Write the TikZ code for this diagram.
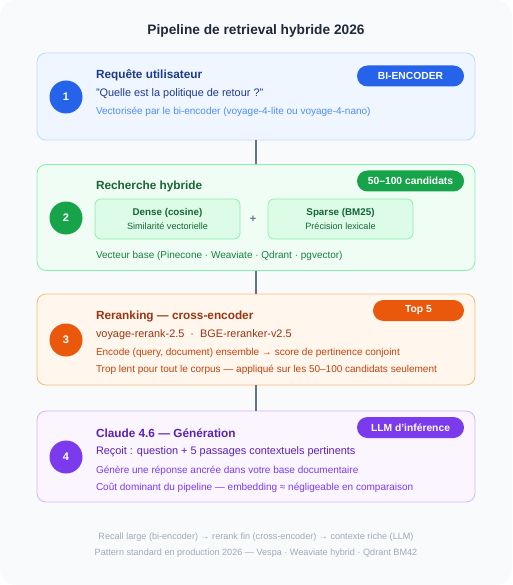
\documentclass[tikz,border=0pt]{standalone}
\usepackage{fontspec}
\setmainfont{Liberation Sans}
\usetikzlibrary{positioning}

% palette
\definecolor{pagebg}{HTML}{F8FAFC}
\definecolor{titlecol}{HTML}{1E293B}
\definecolor{linkcol}{HTML}{64748B}
\definecolor{footcol}{HTML}{A0AABB}
\definecolor{blueBg}{HTML}{EFF6FF}
\definecolor{blueLine}{HTML}{BFDBFE}
\definecolor{blueMain}{HTML}{2563EB}
\definecolor{blueDark}{HTML}{1E3A8A}
\definecolor{blueSoft}{HTML}{4F8EF0}
\definecolor{greenBg}{HTML}{F0FDF4}
\definecolor{greenLine}{HTML}{86EFAC}
\definecolor{greenMain}{HTML}{16A34A}
\definecolor{greenDark}{HTML}{166534}
\definecolor{greenSoft}{HTML}{15803D}
\definecolor{greenInner}{HTML}{DCFCE7}
\definecolor{orangeBg}{HTML}{FFF7ED}
\definecolor{orangeLine}{HTML}{FDBA74}
\definecolor{orangeMain}{HTML}{EA580C}
\definecolor{orangeDark}{HTML}{9A3412}
\definecolor{orangeSoft}{HTML}{C2410C}
\definecolor{purpleBg}{HTML}{FAF5FF}
\definecolor{purpleLine}{HTML}{D8B4FE}
\definecolor{purpleMain}{HTML}{7C3AED}
\definecolor{purpleDark}{HTML}{5B21B6}
\definecolor{purpleSoft}{HTML}{7C3AED}

\begin{document}
\begin{tikzpicture}[
        x=1pt, y=-1pt, % pixel-like grid, y downwards
        every node/.style={inner sep=0pt, outer sep=0pt},
        stagebox/.style={rectangle, rounded corners=9pt, line width=0.8pt, minimum width=438pt}, % one stage of the pipeline
        stepnum/.style={circle, minimum size=33pt, text=white, font=\bfseries\fontsize{11}{13}\selectfont}, % numbered disc
        badge/.style={rectangle, rounded corners=10.5pt, minimum height=21pt, minimum width=107pt, anchor=east, text=white, font=\bfseries\fontsize{10.3}{12}\selectfont},
        stagetitle/.style={anchor=west, font=\bfseries\fontsize{11.8}{14}\selectfont},
        mainline/.style={anchor=west, font=\fontsize{10.9}{13}\selectfont},
        note/.style={anchor=west, font=\fontsize{10}{12}\selectfont},
        innerbox/.style={rectangle, rounded corners=6pt, draw=greenLine, fill=greenInner, line width=0.7pt, minimum width=145pt, minimum height=40pt, align=center, text=greenDark, font=\fontsize{9.1}{14}\selectfont},
        footnote/.style={text=footcol, font=\fontsize{9.1}{11}\selectfont},
        link/.style={draw=linkcol, line width=1.5pt}
    ]
    % --- Background ---
    \useasboundingbox (0,0) rectangle (512,585);
    \fill[pagebg, rounded corners=16pt] (0,0) rectangle (512,585);
    \node (title) [text=titlecol, font=\bfseries\fontsize{13.7}{16}\selectfont] at (256,30.5) {Pipeline de retrieval hybride 2026};

    % --- Stage 1 ---
    \node (s1) [stagebox, draw=blueLine, fill=blueBg, minimum height=87pt] at (256,96.5) {};
    \node (n1) [stepnum, fill=blueMain] at (66,97) {1};
    \node (t1) [stagetitle, text=blueDark] at (96,75) {Requête utilisateur};
    \node (q1) [mainline, text=blueDark] at (96,93.5) {"Quelle est la politique de retour ?"};
    \node (v1) [note, text=blueSoft] at (96,112) {Vectorisée par le bi-encoder (voyage-4-lite ou voyage-4-nano)};
    \node (b1) [badge, fill=blueMain] at (464,76) {BI-ENCODER};

    % --- Stage 2 ---
    \node (s2) [stagebox, draw=greenLine, fill=greenBg, minimum height=106pt] at (256,217.5) {};
    \node (n2) [stepnum, fill=greenMain] at (66,218) {2};
    \node (t2) [stagetitle, text=greenDark] at (96,186) {Recherche hybride};
    \node (dense) [innerbox] at (167.5,219) {{\bfseries\fontsize{9.8}{14}\selectfont Dense (cosine)}\\Similarité vectorielle};
    \node (plus) [text=linkcol, font=\bfseries\fontsize{11}{13}\selectfont] at (253,219) {+};
    \node (sparse) [innerbox] at (340.5,219) {{\bfseries\fontsize{9.8}{14}\selectfont Sparse (BM25)}\\Précision lexicale};
    \node (v2) [note, text=greenSoft] at (96,256) {Vecteur base (Pinecone · Weaviate · Qdrant · pgvector)};
    \node (b2) [badge, fill=greenMain] at (464,181) {50–100 candidats};

    % --- Stage 3 ---
    \node (s3) [stagebox, draw=orangeLine, fill=orangeBg, minimum height=91pt] at (256,339.5) {};
    \node (n3) [stepnum, fill=orangeMain] at (66,340) {3};
    \node (t3) [stagetitle, text=orangeDark] at (96,316) {Reranking — cross-encoder};
    \node (m3) [mainline, text=orangeDark] at (96,335) {voyage-rerank-2.5 \ · \ BGE-reranker-v2.5};
    \node (e3) [note, text=orangeSoft] at (96,353) {Encode (query, document) ensemble → score de pertinence conjoint};
    \node (l3) [note, text=orangeSoft] at (96,369.5) {Trop lent pour tout le corpus — appliqué sur les 50–100 candidats seulement};
    \node (b3) [badge, fill=orangeMain, minimum width=91pt] at (464,310.5) {Top 5};

    % --- Stage 4 ---
    \node (s4) [stagebox, draw=purpleLine, fill=purpleBg, minimum height=91pt] at (256,456.5) {};
    \node (n4) [stepnum, fill=purpleMain] at (66,457) {4};
    \node (t4) [stagetitle, text=purpleDark] at (96,433) {Claude 4.6 — Génération};
    \node (m4) [mainline, text=purpleDark] at (96,452) {Reçoit : question + 5 passages contextuels pertinents};
    \node (g4) [note, text=purpleSoft] at (96,471) {Génère une réponse ancrée dans votre base documentaire};
    \node (c4) [note, text=purpleSoft] at (96,487.5) {Coût dominant du pipeline — embedding ≈ négligeable en comparaison};
    \node (b4) [badge, fill=purpleMain] at (464,427.5) {LLM d'inférence};

    % --- Links between stages ---
    \draw[link] (s1.south) -- (s2.north);
    \draw[link] (s2.south) -- (s3.north);
    \draw[link] (s3.south) -- (s4.north);

    % --- Footer ---
    \node (f1) [footnote] at (256,537) {Recall large (bi-encoder) → rerank fin (cross-encoder) → contexte riche (LLM)};
    \node (f2) [footnote] at (256,553) {Pattern standard en production 2026 — Vespa · Weaviate hybrid · Qdrant BM42};
\end{tikzpicture}
\end{document}
